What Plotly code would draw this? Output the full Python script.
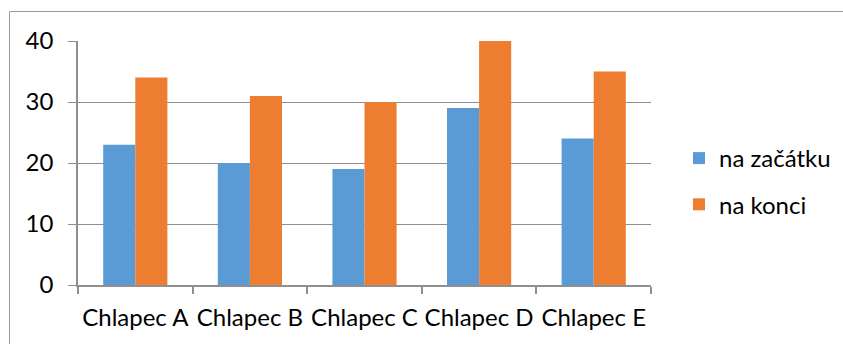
import plotly.graph_objects as go

# Data
categories = ["Chlapec A", "Chlapec B", "Chlapec C", "Chlapec D", "Chlapec E"]
start_values = [23, 20, 19, 29, 24]
end_values = [34, 31, 30, 40, 35]
series_names = ["na začátku", "na konci"]
y_ticks = [0, 10, 20, 30, 40]

BLUE = "#5B9BD5"
ORANGE = "#ED7D31"
GRID = "#8f8f8f"
FONT = dict(family="Lato, 'Open Sans', sans-serif", size=24, color="#000000")

W, H = 843, 344
L, R, T, B = 78, 192, 41, 59
plot_w = W - L - R
plot_h = H - T - B


def px_x(x):
    return (x - L) / plot_w


def px_y(y):
    return (H - B - y) / plot_h


fig = go.Figure()
fig.add_trace(go.Bar(x=categories, y=start_values, name=series_names[0],
                     marker=dict(color=BLUE, line=dict(width=0)),
                     legendgroup="g1"))
fig.add_trace(go.Bar(x=categories, y=end_values, name=series_names[1],
                     marker=dict(color=ORANGE, line=dict(width=0)),
                     legendgroup="g2"))

fig.update_layout(
    width=W, height=H,
    margin=dict(l=L, r=R, t=T, b=B, pad=0, autoexpand=False),
    paper_bgcolor="white", plot_bgcolor="white",
    barmode="group", bargap=0.44, bargroupgap=0,
    font=FONT,
    showlegend=True,
    legend=dict(
        x=px_x(679), y=px_y(136), xanchor="left", yanchor="top",
        traceorder="grouped", tracegroupgap=12,
        font=FONT, bgcolor="rgba(0,0,0,0)", borderwidth=0,
    ),
)

fig.update_xaxes(
    showgrid=False, showline=True, linecolor=GRID, linewidth=1.5,
    ticks="outside", tickson="boundaries", ticklen=7, tickcolor=GRID,
    tickwidth=1.5, tickfont=FONT, ticklabelstandoff=10,
    tickangle=0, automargin=False,
)
fig.update_yaxes(
    range=[0, 40], tickvals=y_ticks, showgrid=True, gridcolor=GRID,
    gridwidth=1, showline=True, linecolor=GRID, linewidth=1.5,
    ticks="outside", ticklen=8, tickcolor=GRID, tickwidth=1,
    tickfont=FONT, ticklabelstandoff=10, zeroline=False, automargin=False,
)

# Outer chart frame
fig.add_shape(type="rect", xref="paper", yref="paper",
              x0=px_x(9.5), x1=px_x(W + 10), y0=px_y(H + 10), y1=px_y(11.5),
              line=dict(color="#9a9a9a", width=1), fillcolor="rgba(0,0,0,0)",
              layer="below")

fig.write_html("out.html")
